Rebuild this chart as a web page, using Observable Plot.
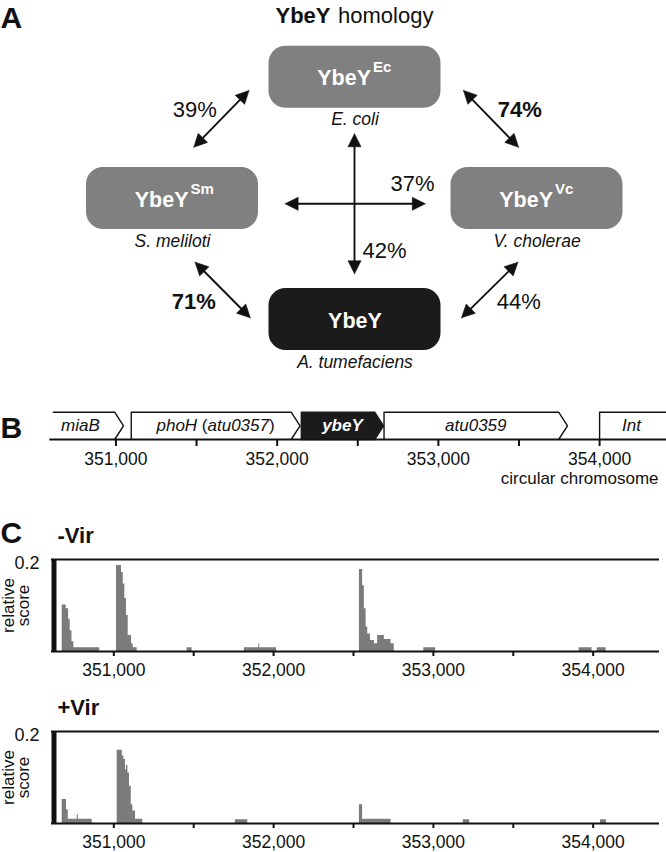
<!DOCTYPE html>
<html><head><meta charset="utf-8">
<script src="https://cdn.jsdelivr.net/npm/d3@7"></script>
<script src="https://cdn.jsdelivr.net/npm/@observablehq/plot@0.6"></script>
<style>
body{margin:0;background:#fff;}
#fig{position:relative;width:666px;height:852px;overflow:hidden;background:#fff;}
#fig svg{position:absolute;left:0;}
</style></head><body><div id="fig"></div>
<script>
// ================= DATA =================
// Panel A: pairwise identity of YbeY homologs
const proteinName = "YbeY";
const proteinTags = ["Ec", "Sm", "Vc", ""];
const proteinSpecies = ["E. coli", "S. meliloti", "V. cholerae", "A. tumefaciens"];
const identityLabels = ["39%", "74%", "37%", "42%", "71%", "44%"];
const identityBold = [false, true, false, false, true, false];

// Panel B: gene map (bp on circular chromosome)
const geneNames = ["miaB", "phoH (atu0357)", "ybeY", "atu0359", "Int"];
const geneStart = [350612, 351095, 352150, 352663, 354000];
const geneEnd = [351047, 352142, 352660, 353801, 354415];
const geneLabelAt = [350780, 351618, 352405, 353232, 354198];
const geneIsTarget = [false, false, true, false, false];
const geneCutLeft = [true, false, false, false, false];
const geneCutRight = [false, false, false, false, true];
const axisTicks = [351000, 351500, 352000, 352500, 353000, 353500, 354000];
const axisTitle = "circular chromosome";

// Panel C: relative score, -Vir
const minusVirStart = [350677,350702,350717,350727,350738,350750, 351017,351048,351059,351069,351079,351090,351111,351121, 351459, 351817,351907,351913, 352537,352557,352568,352579,352589,352606,352631,352651,352693,352735, 352940, 353912, 354025];
const minusVirEnd   = [350702,350717,350727,350738,350750,350912, 351048,351059,351069,351079,351090,351111,351121,351146, 351490, 351907,351913,352018, 352557,352568,352579,352589,352606,352631,352651,352693,352735,352755, 353014, 353993, 354081];
const minusVirScore = [0.101,0.093,0.070,0.045,0.021,0.008, 0.187,0.172,0.147,0.115,0.078,0.035,0.017,0.008, 0.008, 0.008,0.017,0.008, 0.178,0.143,0.093,0.053,0.038,0.024,0.017,0.035,0.026,0.017, 0.008, 0.008, 0.008];
// Panel C: relative score, +Vir
const plusVirStart = [350677,350704,350715,350771,350778, 351021,351053,351063,351073,351079,351088,351098,351109,351119,351136, 351761, 352537,352557, 353187, 354046];
const plusVirEnd   = [350704,350715,350771,350778,350865, 351053,351063,351073,351079,351088,351098,351109,351119,351136,351181, 351838, 352557,352735, 353227, 354083];
const plusVirScore = [0.052,0.030,0.009,0.019,0.009, 0.159,0.147,0.139,0.117,0.126,0.110,0.081,0.041,0.027,0.009, 0.008, 0.041,0.009, 0.008, 0.008];
const scoreMax = 0.2;

// ================= LAYOUT =================
const W = 666;
const FONT = '"Liberation Sans", Arial, Helvetica, sans-serif';
const style = {fontFamily: FONT, fontSize: "17px", color: "#111", background: "transparent", overflow: "visible"};
const GRAY = "#808080", DARK = "#1b1b1b", BAR = "#7b7b7b";

// diagram layout (diagram units)
const boxCx = [354.5, 172, 536.5, 354.5];
const boxCy = [76.7, 198, 198, 319];
const boxW = 172, boxH = 62;
const arrowFrom = [[193.3,146.7],[463,90],[354,133.3],[284.6,203.3],[194.6,261.7],[517.4,261.7]];
const arrowTo   = [[248.5,90],[518,146.7],[354,273.3],[424.8,203.3],[249.8,317.3],[461,317.3]];
const identityPos = [[194.3,116.7],[519.3,116.7],[412,190.7],[384,257.3],[193.3,308.3],[518.3,308.3]];

const fig = document.getElementById("fig");
function place(svg, top) { svg.style.top = top + "px"; fig.appendChild(svg); }

// ---------- Panel A ----------
const boxes = proteinTags.map((tag, i) => ({tag, species: proteinSpecies[i], cx: boxCx[i], cy: boxCy[i], fill: tag ? GRAY : DARK}));
const arrows = identityLabels.map((label, i) => ({label, bold: identityBold[i],
  x1: arrowFrom[i][0], y1: arrowFrom[i][1], x2: arrowTo[i][0], y2: arrowTo[i][1],
  lx: identityPos[i][0], ly: identityPos[i][1]}));
const HEAD = 13, HW = 6.5;
function unit(a) { const dx = a.x2 - a.x1, dy = a.y2 - a.y1, L = Math.hypot(dx, dy); return [dx / L, dy / L]; }
const shafts = arrows.map(a => { const [ux, uy] = unit(a); return {x1: a.x1 + ux * HEAD * 0.6, y1: a.y1 + uy * HEAD * 0.6, x2: a.x2 - ux * HEAD * 0.6, y2: a.y2 - uy * HEAD * 0.6}; });
const heads = [];
arrows.forEach((a, i) => {
  const [ux, uy] = unit(a);
  [[a.x2, a.y2, ux, uy], [a.x1, a.y1, -ux, -uy]].forEach(([tx, ty, vx, vy], k) => {
    const bx = tx - vx * HEAD, by = ty - vy * HEAD, id = i * 2 + k;
    [[tx, ty], [bx - vy * HW, by + vx * HW], [bx + vy * HW, by - vx * HW], [tx, ty]].forEach(([x, y]) => heads.push({id, x, y}));
  });
});

const plotA = Plot.plot({
  width: W, height: 380, margin: 0, style,
  x: {domain: [0, W], range: [0, W], axis: null},
  y: {domain: [0, 380], range: [0, 380], axis: null},
  color: {type: "identity"},
  marks: [
    Plot.text(["A"], {frameAnchor: "top-left", dy: 27, lineAnchor: "bottom", textAnchor: "start", fontSize: 30, fontWeight: "bold"}),
    Plot.text([proteinName], {frameAnchor: "top", dx: -3, dy: 22, lineAnchor: "bottom", textAnchor: "end", fontSize: 22, fontWeight: "bold"}),
    Plot.text(["homology"], {frameAnchor: "top", dx: 4.5, dy: 22, lineAnchor: "bottom", textAnchor: "start", fontSize: 22}),
    Plot.rect(boxes, {x1: d => d.cx - boxW / 2, x2: d => d.cx + boxW / 2, y1: d => d.cy - boxH / 2, y2: d => d.cy + boxH / 2, fill: "fill", rx: 17}),
    Plot.text(boxes.filter(d => d.tag), {x: d => d.cx + 16, y: d => d.cy + 8, text: () => proteinName, textAnchor: "end", lineAnchor: "bottom", fill: "white", fontWeight: "bold", fontSize: 21.5}),
    Plot.text(boxes.filter(d => d.tag), {x: d => d.cx + 18, y: d => d.cy - 5, text: "tag", textAnchor: "start", lineAnchor: "bottom", fill: "white", fontWeight: "bold", fontSize: 15}),
    Plot.text(boxes.filter(d => !d.tag), {x: "cx", y: d => d.cy + 8, text: () => proteinName, lineAnchor: "bottom", fill: "white", fontWeight: "bold", fontSize: 21.5}),
    Plot.text(boxes, {x: "cx", y: d => d.cy + boxH / 2 + 17, text: "species", lineAnchor: "bottom", fontStyle: "italic", fontSize: 17.5}),
    Plot.link(shafts, {x1: "x1", y1: "y1", x2: "x2", y2: "y2", stroke: "#111", strokeWidth: 1.9}),
    Plot.line(heads, {x: "x", y: "y", z: "id", fill: "#111", stroke: "#111", strokeWidth: 0.6, curve: "linear"}),
    Plot.text(arrows.filter(d => !d.bold), {x: "lx", y: "ly", text: "label", lineAnchor: "bottom", fontSize: 22}),
    Plot.text(arrows.filter(d => d.bold), {x: "lx", y: "ly", text: "label", lineAnchor: "bottom", fontSize: 22, fontWeight: "bold"})
  ]
});
place(plotA, 0);

// ---------- Panel B ----------
const fmt = d => d % 1000 ? "" : d3.format(",")(d);
const HEADBP = 55;
const genes = geneNames.map((name, i) => ({name, s: geneStart[i], e: geneEnd[i], at: geneLabelAt[i], target: geneIsTarget[i], cutL: geneCutLeft[i], cutR: geneCutRight[i]}));
const outline = [];
genes.forEach(g => {
  let pts;
  if (g.cutR) pts = [[g.s, 0], [g.s, 1], [g.e, 1]];
  else {
    pts = [[g.s, 1], [g.e - HEADBP, 1], [g.e, 0.5], [g.e - HEADBP, 0]];
    if (!g.cutL) pts.unshift([g.s, 0]);
    if (g.target) pts.push([g.s, 0]);
  }
  pts.forEach(([x, y]) => outline.push({gene: g.name, target: g.target, x, y}));
});
const plotB = Plot.plot({
  width: W, height: 100, marginTop: 16.7, marginBottom: 56, marginLeft: 0, marginRight: 0, style,
  x: {domain: [350284, 354415]},
  y: {domain: [0, 1], axis: null},
  marks: [
    Plot.line(outline.filter(d => d.target), {x: "x", y: "y", z: "gene", fill: DARK, stroke: DARK, strokeWidth: 1.4}),
    Plot.line(outline.filter(d => !d.target), {x: "x", y: "y", z: "gene", stroke: "#111", strokeWidth: 1.4}),
    Plot.ruleY([0], {x1: 350590, x2: 354415, strokeWidth: 2}),
    Plot.axisX({ticks: axisTicks, tickFormat: fmt, tickSize: 7, tickPadding: 6, strokeWidth: 2, fontSize: 17.5, label: null}),
    Plot.text(genes.filter(g => !g.target), {x: "at", y: () => 0.5, text: "name", fontStyle: "italic", fontSize: 17}),
    Plot.text(genes.filter(g => g.target), {x: "at", y: () => 0.5, text: "name", fontStyle: "italic", fontWeight: "bold", fill: "white", fontSize: 17}),
    Plot.text([axisTitle], {frameAnchor: "bottom-right", dx: -8, dy: 44, lineAnchor: "bottom", textAnchor: "end", fontSize: 17}),
    Plot.text(["B"], {frameAnchor: "bottom-left", dy: -2, lineAnchor: "bottom", textAnchor: "start", fontSize: 30, fontWeight: "bold"})
  ]
});
plotB.querySelectorAll("text").forEach(t => {
  if (t.textContent === geneNames[1]) {
    const parts = geneNames[1].split(/(\s\(|\))/).filter(s => s);
    t.textContent = "";
    parts.forEach(s => {
      const ts = document.createElementNS("http://www.w3.org/2000/svg", "tspan");
      ts.setAttribute("font-style", /[()]/.test(s) ? "normal" : "italic");
      ts.textContent = s; t.appendChild(ts);
    });
  }
});
place(plotB, 395);

// ---------- Panel C ----------
const cDomain = [350610, 354415];
// step profile built from the bins (value holds from start to end; zero across gaps)
function steps(start, end, score) {
  const pts = [];
  start.forEach((s, i) => {
    if (i === 0 || start[i] !== end[i - 1]) pts.push({x: s, y: 0});
    pts.push({x: s, y: score[i]});
    if (i === start.length - 1 || start[i + 1] !== end[i]) { pts.push({x: end[i], y: score[i]}); pts.push({x: end[i], y: 0}); }
  });
  return pts;
}
function panelC({start, end, score, label, letter, marginTop, height}) {
  const marks = [
    Plot.areaY(steps(start, end, score), {x: "x", y: "y", curve: "step-after", fill: BAR}),
    Plot.ruleY([scoreMax], {strokeWidth: 2}),
    Plot.ruleY([0], {strokeWidth: 2}),
    Plot.ruleX([cDomain[0]], {y1: 0, y2: scoreMax, strokeWidth: 5, dx: 2.5}),
    Plot.axisX({ticks: axisTicks, tickFormat: fmt, tickSize: 5, tickPadding: 7, strokeWidth: 2, fontSize: 17.5, label: null}),
    Plot.axisY({ticks: [scoreMax], tickFormat: d3.format(".1f"), tickSize: 0, tickPadding: 12, dy: 4, fontSize: 18, label: null}),
    Plot.text(["relative\nscore"], {frameAnchor: "left", dx: -35, rotate: -90, textAnchor: "middle", lineAnchor: "middle", lineHeight: 0.9, fontSize: 17}),
    Plot.text([label], {frameAnchor: "top-left", dx: 6, dy: -17, lineAnchor: "bottom", textAnchor: "start", fontSize: 22, fontWeight: "bold"})
  ];
  if (letter) marks.push(Plot.text([letter], {frameAnchor: "top-left", dx: -51, dy: -17, lineAnchor: "bottom", textAnchor: "start", fontSize: 30, fontWeight: "bold"}));
  return Plot.plot({
    width: W, height, marginTop, marginBottom: height - marginTop - 92, marginLeft: 51, marginRight: 7, style,
    x: {domain: cDomain}, y: {domain: [0, scoreMax]},
    marks
  });
}
place(panelC({start: minusVirStart, end: minusVirEnd, score: minusVirScore, label: "-Vir", letter: "C", marginTop: 49, height: 172}), 510);
place(panelC({start: plusVirStart, end: plusVirEnd, score: plusVirScore, label: "+Vir", letter: null, marginTop: 41, height: 162}), 690);
</script></body></html>
